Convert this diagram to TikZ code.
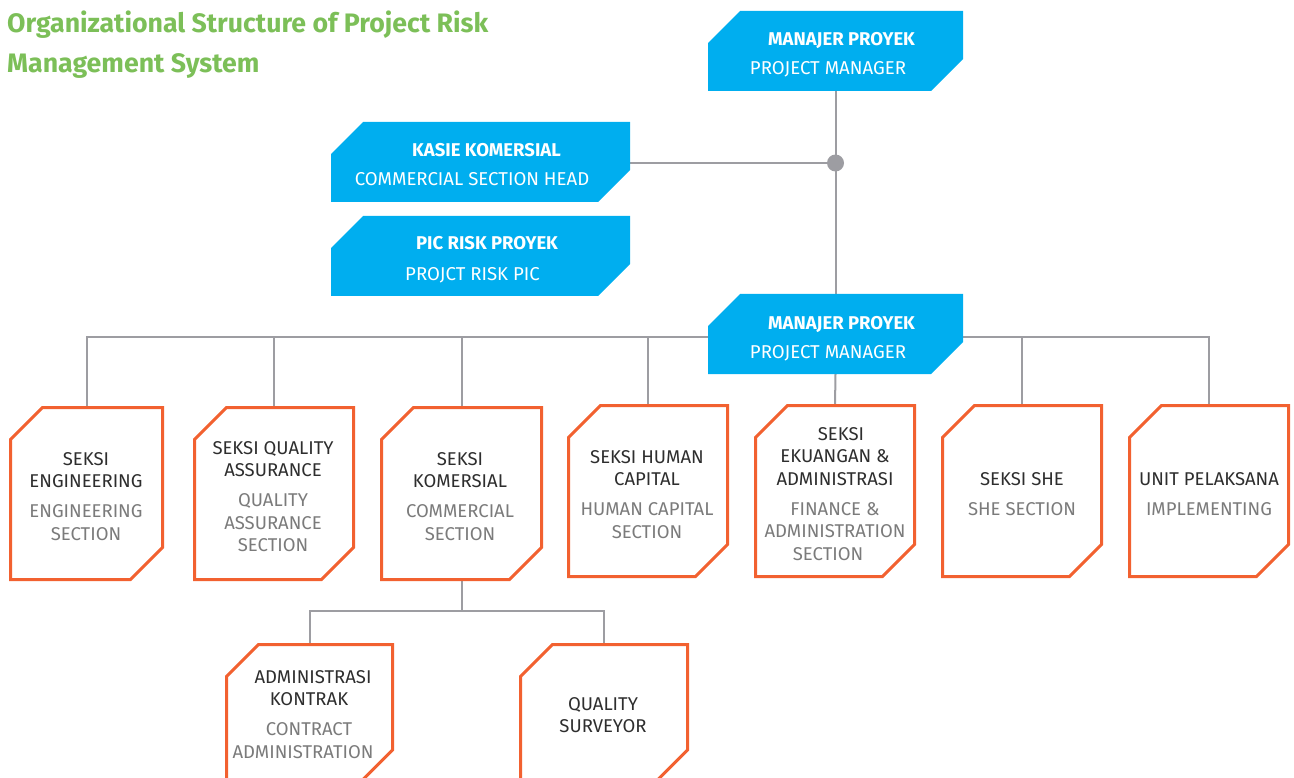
\documentclass[tikz,border=0pt]{standalone}
\usepackage{fontspec}
\setmainfont{Fira Sans}
\definecolor{titlegreen}{HTML}{7CBF58}
\definecolor{pblue}{HTML}{00AEEF}
\definecolor{porange}{HTML}{F26130}
\definecolor{lgray}{HTML}{9D9DA2}
\definecolor{dtext}{HTML}{2E2E2E}
\definecolor{gtext}{HTML}{7B7B7B}
\newcommand\chamf[2]{\path[#2] ([yshift=-32pt]#1.north west) -- ([xshift=32pt]#1.north west) -- (#1.north east) -- ([yshift=32pt]#1.south east) -- ([xshift=-32pt]#1.south east) -- (#1.south west) -- cycle;}
\newcommand\gl[1]{\textcolor{gtext}{#1}}
\begin{document}
\begin{tikzpicture}[x=1pt,y=-1pt,
  frame/.style={inner sep=0pt, outer sep=0pt, draw=none},
  bluebox/.style={fill=pblue},
  orangebox/.style={draw=porange, line width=3pt, fill=white, line join=miter},
  link/.style={draw=lgray, line width=2pt},
  headtxt/.style={text=white, font=\fontsize{18.5}{22}\selectfont\bfseries, anchor=base, inner sep=0pt},
  subtxt/.style={text=white, font=\fontsize{18.6}{22}\selectfont, anchor=base, inner sep=0pt},
  otxt/.style={align=center, anchor=north, inner sep=0pt, font=\fontsize{18.5}{22.5}\selectfont, text=dtext},
  titletxt/.style={align=left, anchor=north west, inner sep=0pt, font=\fontsize{26.7}{40.5}\selectfont\bfseries, text=titlegreen},
]
\useasboundingbox (0,0) rectangle (1294,778);

% title
\node[titletxt] (title) at (7,10.6) {Organizational Structure of Project Risk\\Management System};

% frames (invisible nodes that carry the geometry)
\node[frame, minimum width=255pt, minimum height=80pt] (pmA) at (835.5,51) {};
\node[frame, minimum width=299pt, minimum height=80pt] (kasie) at (480.5,162) {};
\node[frame, minimum width=299pt, minimum height=80pt] (pic) at (480.5,256) {};
\node[frame, minimum width=255pt, minimum height=80pt] (pmB) at (835.5,334) {};

\node[frame, minimum width=152pt, minimum height=172pt] (eng) at (86.5,493.5) {};
\node[frame, minimum width=159pt, minimum height=172pt] (qa) at (274,493.5) {};
\node[frame, minimum width=160pt, minimum height=172pt] (kom) at (461.5,493.5) {};
\node[frame, minimum width=159pt, minimum height=171pt] (hc) at (648,491) {};
\node[frame, minimum width=159pt, minimum height=171pt] (eku) at (835,491) {};
\node[frame, minimum width=159pt, minimum height=171pt] (she) at (1022,491) {};
\node[frame, minimum width=159pt, minimum height=171pt] (unit) at (1209,491) {};
\node[frame, minimum width=166pt, minimum height=137.5pt] (adm) at (309.5,713.25) {};
\node[frame, minimum width=167pt, minimum height=137.5pt] (qs) at (604,713.25) {};

% connectors
\coordinate (hub) at (835.5,163);
\coordinate (bus) at (835.5,337);
\coordinate (subbus) at (461.5,611);
\draw[link] (pmA.south) -- (pmB.north);
\draw[link] (kasie.east |- hub) -- (hub);
\fill[lgray] (hub) circle (8.5pt);
\draw[link] (eng.north) |- (unit.north |- bus) -- (unit.north);
\foreach \n in {qa,kom,hc,she} {\draw[link] (\n.north |- bus) -- (\n.north);}
\draw[link] (pmB.south) -- (eku.north);
\draw[link] (kom.south) -- (kom.south |- subbus);
\draw[link] (adm.north) |- (qs.north |- subbus) -- (qs.north);

% boxes
\foreach \n in {pmA,kasie,pic,pmB} {\chamf{\n}{bluebox}}
\foreach \n in {eng,qa,kom,hc,eku,she,unit,adm,qs} {\chamf{\n}{orangebox}}

% blue box texts
\node[headtxt] (pmA-h) at (841.5,46) {MANAJER PROYEK};
\node[subtxt] (pmA-s) at (828,75) {PROJECT MANAGER};
\node[headtxt] (kasie-h) at (486.5,157) {KASIE KOMERSIAL};
\node[subtxt] (kasie-s) at (472,186) {COMMERCIAL SECTION HEAD};
\node[headtxt] (pic-h) at (487,250) {PIC RISK PROYEK};
\node[subtxt] (pic-s) at (472.5,280) {PROJCT RISK PIC};
\node[headtxt] (pmB-h) at (841.5,329) {MANAJER PROYEK};
\node[subtxt] (pmB-s) at (828,358) {PROJECT MANAGER};

% orange box texts
\node[otxt] (eng-t) at (86,452.3) {SEKSI\\ENGINEERING\\[7.5pt]\gl{ENGINEERING}\\\gl{SECTION}};
\node[otxt] (qa-t) at (273,441.3) {SEKSI QUALITY\\ASSURANCE\\[7.5pt]\gl{QUALITY}\\\gl{ASSURANCE}\\\gl{SECTION}};
\node[otxt] (kom-t) at (460,452.3) {SEKSI\\KOMERSIAL\\[7.5pt]\gl{COMMERCIAL}\\\gl{SECTION}};
\node[otxt] (hc-t) at (647,450.3) {SEKSI HUMAN\\CAPITAL\\[7.5pt]\gl{HUMAN CAPITAL}\\\gl{SECTION}};
\node[otxt] (eku-t) at (835,427.3) {\hspace*{12pt}SEKSI\\EKUANGAN \&\\ADMINISTRASI\\[7.5pt]\gl{FINANCE \&}\\\gl{ADMINISTRATION}\\\gl{SECTION}\hspace*{14pt}};
\node[otxt] (she-t) at (1022,472.3) {SEKSI SHE\\[7.5pt]\gl{SHE SECTION}};
\node[otxt] (unit-t) at (1209,472.3) {UNIT PELAKSANA\\[7.5pt]\gl{IMPLEMENTING}};
\node[otxt] (adm-t) at (309,670.3) {\hspace*{8pt}ADMINISTRASI\\KONTRAK\\[7.5pt]\gl{CONTRACT}\\\gl{ADMINISTRATION}\hspace*{12pt}};
\node[otxt] (qs-t) at (603,697.3) {QUALITY\\SURVEYOR};
\end{tikzpicture}
\end{document}
